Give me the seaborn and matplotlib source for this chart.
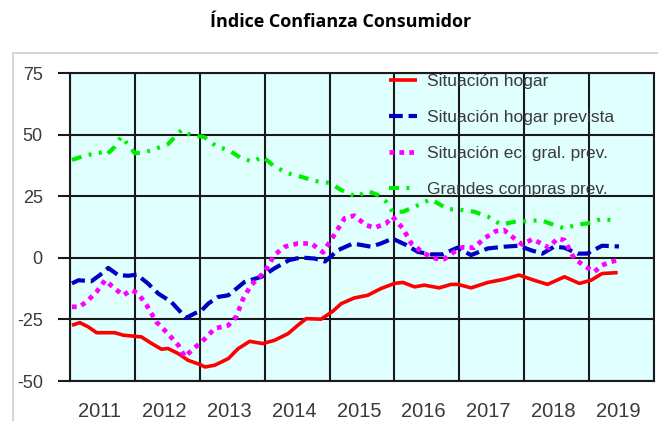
import matplotlib
matplotlib.use("Agg")
import matplotlib.pyplot as plt
from matplotlib.lines import Line2D
import seaborn as sns
import pandas as pd

# Consumer confidence sub-indices (fractional year, index value)
hogar_x = [2011.03, 2011.15, 2011.28, 2011.41, 2011.69, 2011.82, 2012.10, 2012.26, 2012.41,
           2012.51, 2012.67, 2012.82, 2013.00, 2013.08, 2013.23, 2013.44, 2013.59, 2013.77,
           2013.97, 2014.15, 2014.36, 2014.51, 2014.64, 2014.87, 2015.05, 2015.18, 2015.38,
           2015.59, 2015.79, 2016.00, 2016.13, 2016.31, 2016.46, 2016.69, 2016.87, 2016.98,
           2017.18, 2017.44, 2017.69, 2017.92, 2018.15, 2018.36, 2018.62, 2018.85, 2019.03,
           2019.20, 2019.44]
hogar_y = [-27.4, -26.3, -28.0, -30.4, -30.4, -31.4, -32.1, -34.8, -37.1,
           -36.8, -38.9, -41.6, -43.3, -44.3, -43.6, -40.9, -36.9, -33.9,
           -34.8, -33.5, -30.8, -27.4, -24.7, -24.9, -21.7, -18.6, -16.3,
           -15.2, -12.5, -10.4, -10.0, -11.8, -11.1, -12.2, -10.8, -10.8,
           -12.2, -10.0, -8.7, -7.0, -9.1, -10.8, -7.7, -10.4, -9.1,
           -6.4, -6.0]

prevista_x = [2011.03, 2011.13, 2011.33, 2011.46, 2011.59, 2011.74, 2011.90, 2012.03, 2012.20,
              2012.36, 2012.56, 2012.79, 2012.92, 2013.03, 2013.13, 2013.28, 2013.44, 2013.69,
              2013.95, 2014.15, 2014.38, 2014.56, 2014.77, 2014.93, 2015.13, 2015.36, 2015.64,
              2015.79, 2015.97, 2016.18, 2016.36, 2016.56, 2016.74, 2016.97, 2017.18, 2017.44,
              2017.69, 2017.92, 2018.10, 2018.28, 2018.46, 2018.62, 2018.82, 2018.97, 2019.20,
              2019.46]
prevista_y = [-10.4, -9.1, -9.5, -7.0, -4.1, -7.0, -7.3, -6.8, -10.4,
              -14.5, -17.9, -24.4, -22.6, -21.3, -18.6, -15.9, -15.2, -9.8,
              -7.7, -4.3, -0.9, 0.1, -0.3, -1.5, 3.1, 5.8, 4.5,
              5.8, 7.8, 5.2, 2.4, 1.4, 1.4, 4.1, 1.1, 3.8,
              4.5, 4.9, 3.1, 1.7, 4.5, 4.1, 1.7, 1.7, 4.9,
              4.6]

general_x = [2011.03, 2011.15, 2011.28, 2011.41, 2011.54, 2011.69, 2011.82, 2011.95, 2012.05,
             2012.18, 2012.33, 2012.51, 2012.67, 2012.77, 2012.90, 2013.03, 2013.08, 2013.23,
             2013.44, 2013.56, 2013.67, 2013.79, 2014.00, 2014.15, 2014.31, 2014.51, 2014.72,
             2014.90, 2015.06, 2015.23, 2015.38, 2015.56, 2015.69, 2015.87, 2015.97, 2016.13,
             2016.26, 2016.46, 2016.64, 2016.77, 2016.92, 2017.05, 2017.23, 2017.38, 2017.56,
             2017.69, 2017.85, 2017.97, 2018.13, 2018.26, 2018.38, 2018.51, 2018.62, 2018.77,
             2018.95, 2019.08, 2019.20, 2019.31, 2019.44]
general_y = [-19.9, -19.9, -17.2, -13.8, -9.1, -12.5, -15.2, -13.1, -14.5,
             -19.2, -26.0, -30.8, -35.5, -40.2, -36.9, -34.1, -32.8, -28.7,
             -27.4, -24.0, -16.5, -11.1, -5.7, 1.1, 4.5, 5.8, 5.8,
             2.2, 8.8, 16.0, 17.1, 13.3, 12.2, 13.9, 16.7, 11.9,
             5.8, 1.7, -0.3, -0.5, 2.4, 4.3, 4.1, 7.8, 10.8,
             11.2, 7.8, 5.4, 7.6, 5.8, 4.1, 7.8, 7.2, -0.3,
             -3.7, -5.7, -3.0, -1.9, -0.9]

compras_x = [2011.03, 2011.23, 2011.49, 2011.56, 2011.69, 2011.79, 2011.90, 2012.00, 2012.15,
             2012.31, 2012.51, 2012.72, 2012.87, 2013.03, 2013.08, 2013.26, 2013.44, 2013.64,
             2013.82, 2013.97, 2014.15, 2014.36, 2014.56, 2014.77, 2015.00, 2015.18, 2015.41,
             2015.59, 2015.74, 2015.87, 2015.97, 2016.13, 2016.31, 2016.56, 2016.82, 2017.03,
             2017.23, 2017.44, 2017.64, 2017.85, 2018.05, 2018.26, 2018.46, 2018.62, 2018.82,
             2018.97, 2019.18, 2019.36]
compras_y = [39.7, 41.5, 42.8, 41.7, 45.1, 49.2, 45.8, 42.4, 42.8,
             44.2, 46.1, 51.9, 49.6, 49.2, 48.8, 45.1, 43.8, 40.4,
             39.0, 41.1, 37.0, 34.3, 32.9, 31.2, 30.4, 27.5, 24.8,
             27.1, 25.5, 22.8, 18.7, 18.7, 20.7, 23.8, 19.8, 19.4,
             18.7, 16.7, 13.5, 14.6, 14.9, 15.3, 13.3, 11.9, 13.5,
             13.9, 15.7, 15.3]

years = list(range(2011, 2021))
year_labels = [str(y) for y in range(2011, 2020)]
y_ticks = [75, 50, 25, 0, -25, -50]

series = [
    ("Situación hogar", hogar_x, hogar_y, "#ff0000", "-", 2.6),
    ("Situación hogar prevista", prevista_x, prevista_y, "#0000c0", (0, (3.3, 1.4)), 3.0),
    ("Situación ec. gral. prev.", general_x, general_y, "#ff00ff", (0, (1.0, 1.1)), 3.4),
    ("Grandes compras prev.", compras_x, compras_y, "#00ee00", (0, (2.4, 1.8, 0.7, 1.8, 0.7, 1.8)), 3.0),
]

sns.set_style("white")
plt.rcParams["font.family"] = ["Liberation Sans", "DejaVu Sans"]

fig = plt.figure(figsize=(6.58, 4.21), dpi=100)
ax = fig.add_axes([70 / 658, 1 - 381 / 421, 584 / 658, 308 / 421])
ax.set_facecolor("#e0ffff")

for name, xs, ys, color, ls, lw in series:
    df = pd.DataFrame({"year": xs, "value": ys})
    sns.lineplot(data=df, x="year", y="value", ax=ax, color=color, linestyle=ls,
                 linewidth=lw, label=name, solid_capstyle="butt", dash_capstyle="butt")

ax.set_xlim(2011, 2020)
ax.set_ylim(-50, 75)
ax.set_xlabel("")
ax.set_ylabel("")

# Year gridlines on major ticks, year labels centred on minor ticks
ax.set_xticks(years)
ax.set_xticklabels([])
ax.set_xticks([y + 0.45 for y in range(2011, 2020)], minor=True)
ax.set_xticklabels(year_labels, minor=True)
ax.tick_params(axis="x", which="both", length=0)
ax.tick_params(axis="x", which="minor", pad=15, labelsize=14.5, labelcolor="#3a3a3a")

ax.set_yticks(y_ticks)
ax.set_yticklabels([str(v) for v in y_ticks])
ax.tick_params(axis="y", which="major", left=True, length=8.6, width=1.5, color="#1a1a1a",
               pad=11, labelsize=13, labelcolor="#3a3a3a")

ax.grid(True, which="major", color="#1a1a1a", linewidth=1.5)
ax.set_axisbelow(True)
for sp in ax.spines.values():
    sp.set_color("#1a1a1a")
    sp.set_linewidth(1.5)

handles, labels = ax.get_legend_handles_labels()
leg = ax.legend(handles, labels, loc="upper left", bbox_to_anchor=(0.546, 0.997),
                frameon=False, fontsize=12.5, handlelength=1.6, handletextpad=0.6,
                labelspacing=1.2, borderpad=0, borderaxespad=0)
for t in leg.get_texts():
    t.set_color("#3a3a3a")

fig.text(0.517, 1 - 22 / 421, "Índice Confianza Consumidor", ha="center", va="center",
         fontsize=13, fontweight="bold", family=["Open Sans", "DejaVu Sans"], color="black")

# Light frame around the chart area
fig.add_artist(Line2D([13 / 658, 13 / 658], [0, 1 - 53 / 421], transform=fig.transFigure,
                      color="#d0d0d0", linewidth=1.2))
fig.add_artist(Line2D([13 / 658, 1], [1 - 53 / 421, 1 - 53 / 421], transform=fig.transFigure,
                      color="#d0d0d0", linewidth=1.2))

fig.savefig("out.png", dpi=100)
